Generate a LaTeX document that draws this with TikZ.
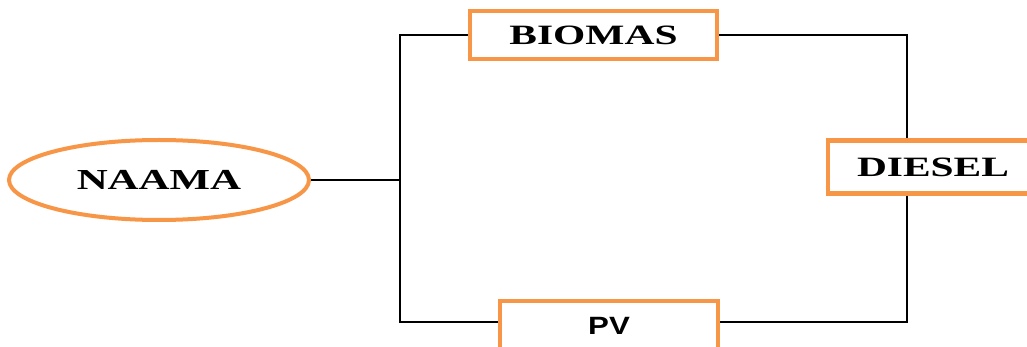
\documentclass[tikz,border=0pt]{standalone}
\usepackage{fontspec}
\setmainfont{Liberation Serif}
\newfontfamily\wideserif[FakeStretch=1.48]{Liberation Serif}
\newfontfamily\widesans[FakeStretch=1.25]{Liberation Sans}
\usetikzlibrary{shapes.geometric}
\definecolor{borderorange}{HTML}{F79646}
\tikzset{
  unitbox/.style={draw=borderorange, line width=4.5pt, fill=white, inner sep=0pt, font=\wideserif\bfseries\fontsize{28}{28}\selectfont},
  oval/.style={ellipse, draw=borderorange, line width=4pt, fill=white, inner sep=0pt, font=\wideserif\bfseries\fontsize{29}{29}\selectfont},
  wire/.style={draw=black, line width=2pt}
}
\begin{document}
\begin{tikzpicture}[x=1pt,y=-1pt]
\useasboundingbox (0,0) rectangle (1027,347);
\clip (0,0) rectangle (1027,347);
\node[oval, minimum width=300pt, minimum height=80pt] (naama) at (159,180) {NAAMA};
\node[unitbox, minimum width=247pt, minimum height=48pt] (biomas) at (593.5,35) {BIOMAS};
\node[unitbox, minimum width=210pt, minimum height=53pt] (diesel) at (933,167) {DIESEL};
\node[unitbox, minimum width=218pt, minimum height=50pt, font=\widesans\bfseries\fontsize{25}{25}\selectfont] (pv) at (609,326) {PV};
\coordinate (jn) at (400,180);
\coordinate (tl) at (400,35);
\coordinate (bl) at (400,322);
\coordinate (tr) at (907,35);
\coordinate (br) at (907,322);
\draw[wire] (naama.east) -- (jn);
\draw[wire] (biomas.west) -- (tl) -- (bl) -- (bl -| pv.west);
\draw[wire] (biomas.east) -- (tr) -- (tr |- diesel.north);
\draw[wire] (br |- diesel.south) -- (br) -- (br -| pv.east);
\end{tikzpicture}
\end{document}
